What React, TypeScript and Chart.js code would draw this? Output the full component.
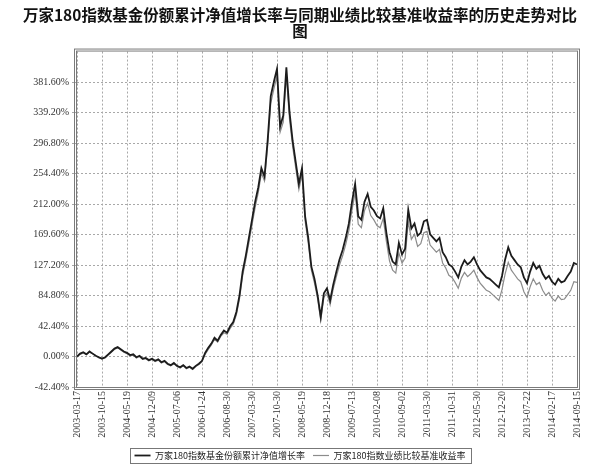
import React, { useEffect, useRef } from "react";
import { Chart, registerables } from "chart.js";

Chart.register(...registerables);

const titleLines = [
  "万家180指数基金份额累计净值增长率与同期业绩比较基准收益率的历史走势对比",
  "图",
];

const seriesNames = ["万家180指数基金份额累计净值增长率", "万家180指数业绩比较基准收益率"];

const tickDates = [
  "2003-03-17", "2003-10-15", "2004-05-19", "2004-12-09", "2005-07-06",
  "2006-01-24", "2006-08-30", "2007-03-30", "2007-10-30", "2008-05-19",
  "2008-12-18", "2009-07-13", "2010-02-08", "2010-09-02", "2011-03-30",
  "2011-10-31", "2012-05-30", "2012-12-20", "2013-07-22", "2014-02-17",
  "2014-09-15",
];

const yTicks = [-42.4, 0, 42.4, 84.8, 127.2, 169.6, 212.0, 254.4, 296.8, 339.2, 381.6];

// 8 samples between consecutive date ticks (161 points)
const fundGrowth = [
  0, 4, 6, 3, 7, 4, 1, -1, -3,
  -1, 3, 7, 11, 13, 10, 7, 5,
  2, 3, -1, 1, -3, -2, -5, -3,
  -6, -4, -8, -6, -10, -12, -9, -13,
  -15, -12, -16, -14, -17, -13, -10, -6,
  5, 12, 18, 26, 22, 30, 36, 33,
  42, 48, 62, 85, 118, 140, 165, 190,
  215, 235, 262, 250, 300, 362, 382, 400,
  320, 335, 402, 340, 300, 270, 240, 262,
  195, 165, 125, 108, 85, 55, 88, 95,
  78, 100, 118, 135, 148, 165, 185, 215,
  240, 195, 190, 215, 226, 208, 203, 195,
  192, 206, 172, 145, 132, 128, 158, 142,
  150, 204, 178, 185, 168, 172, 188, 190,
  170, 165, 160, 165, 145, 138, 128, 125,
  118, 110, 125, 134, 128, 132, 138, 128,
  120, 115, 110, 108, 104, 100, 96, 112,
  135, 152, 140, 134, 128, 124, 110, 102,
  118, 130, 122, 126, 115, 108, 112, 104,
  100, 108, 103, 105, 112, 118, 130, 128,
];

const benchmarkReturn = [
  0, 3, 5, 3, 6, 4, 1, -2, -3,
  -2, 2, 6, 10, 12, 9, 6, 4,
  1, 2, -2, 0, -4, -3, -6, -4,
  -7, -5, -9, -7, -11, -13, -10, -14,
  -16, -13, -17, -15, -18, -14, -11, -7,
  3, 10, 16, 24, 20, 28, 33, 31,
  39, 45, 58, 80, 112, 134, 158, 183,
  207, 228, 255, 244, 292, 352, 372, 390,
  312, 326, 390, 330, 292, 262, 232, 253,
  188, 158, 120, 102, 80, 50, 82, 89,
  72, 94, 111, 127, 140, 156, 175, 204,
  228, 184, 179, 203, 213, 196, 190, 182,
  179, 192, 160, 133, 120, 116, 144, 130,
  137, 188, 163, 170, 153, 157, 172, 174,
  155, 150, 145, 149, 130, 123, 113, 110,
  103, 95, 109, 117, 111, 115, 120, 110,
  102, 97, 92, 90, 86, 82, 78, 93,
  115, 131, 120, 114, 108, 104, 90, 82,
  97, 108, 100, 103, 92, 85, 89, 81,
  77, 84, 79, 80, 86, 92, 104, 103,
];

const PER_TICK = 8;
const SERIF = "'Liberation Serif', 'Noto Sans CJK SC', serif";
const CJK = "'Noto Sans CJK SC', 'Noto Sans CJK TC', sans-serif";

const framePlugin = {
  id: "frame",
  afterDraw(chart: any) {
    const { ctx, chartArea } = chart;
    const { left, top, right, bottom } = chartArea;
    ctx.save();
    ctx.strokeStyle = "#7a7a7a";
    ctx.lineWidth = 1;
    ctx.strokeRect(left - 0.5, top - 0.5, right - left + 1, bottom - top + 1);
    ctx.strokeRect(left - 2.5, top - 2.5, right - left + 5, bottom - top + 5);
    ctx.restore();
  },
};

const legendBoxPlugin = {
  id: "legendBox",
  afterDraw(chart: any) {
    const lg = chart.legend;
    if (!lg || !lg.legendHitBoxes || !lg.legendHitBoxes.length) return;
    let minX = Infinity, maxX = -Infinity, minY = Infinity, maxY = -Infinity;
    lg.legendHitBoxes.forEach((b: any) => {
      minX = Math.min(minX, b.left);
      maxX = Math.max(maxX, b.left + b.width);
      minY = Math.min(minY, b.top);
      maxY = Math.max(maxY, b.top + b.height);
    });
    const { ctx } = chart;
    ctx.save();
    ctx.strokeStyle = "#777";
    ctx.lineWidth = 1;
    ctx.strokeRect(Math.round(minX - 5) + 0.5, Math.round(minY - 3) + 0.5, Math.round(maxX - minX + 10), Math.round(maxY - minY + 6));
    ctx.restore();
  },
};

export default function App() {
  const ref = useRef<HTMLCanvasElement | null>(null);

  useEffect(() => {
    if (!ref.current) return;
    const toPts = (arr: number[]) => arr.map((v, i) => ({ x: i, y: v }));
    const chart = new Chart(ref.current, {
      type: "line",
      data: {
        datasets: [
          {
            label: seriesNames[0],
            data: toPts(fundGrowth),
            borderColor: "#1c1c1c",
            backgroundColor: "#1c1c1c",
            borderWidth: 1.8,
            pointRadius: 0,
            tension: 0,
          },
          {
            label: seriesNames[1],
            data: toPts(benchmarkReturn),
            borderColor: "#8c8c8c",
            backgroundColor: "#8c8c8c",
            borderWidth: 1.2,
            pointRadius: 0,
            tension: 0,
          },
        ],
      },
      options: {
        responsive: false,
        animation: false,
        events: [],
        layout: { padding: { left: 23, right: 23, top: 0, bottom: 0 } },
        plugins: {
          title: {
            display: true,
            text: titleLines,
            color: "#111",
            font: { family: CJK, size: 15.5, weight: "bold", lineHeight: 1.05 },
            padding: { top: 7, bottom: 12 },
          },
          legend: {
            display: true,
            position: "bottom",
            labels: {
              color: "#222",
              font: { family: CJK, size: 9 },
              usePointStyle: true,
              pointStyle: "line",
              pointStyleWidth: 16,
              boxHeight: 9,
              padding: 8,
            },
          },
          tooltip: { enabled: false },
        },
        scales: {
          x: {
            type: "linear",
            min: 0,
            max: (tickDates.length - 1) * PER_TICK,
            afterBuildTicks: (scale: any) => {
              scale.ticks = tickDates.map((_, i) => ({ value: i * PER_TICK }));
            },
            afterFit: (scale: any) => {
              scale.height = 56;
            },
            ticks: {
              autoSkip: false,
              minRotation: 90,
              maxRotation: 90,
              padding: 4,
              color: "#333",
              font: { family: SERIF, size: 10 },
              callback: (v: any) => tickDates[Math.round(Number(v) / PER_TICK)] ?? "",
            },
            grid: { color: "#a8a8a8", drawTicks: false, lineWidth: 1 },
            border: { display: false, dash: [2, 2] },
          },
          y: {
            type: "linear",
            min: -42.4,
            max: 424,
            afterBuildTicks: (scale: any) => {
              scale.ticks = yTicks.map((v) => ({ value: v }));
            },
            afterFit: (scale: any) => {
              scale.width = 54;
            },
            ticks: {
              padding: 3,
              color: "#333",
              font: { family: SERIF, size: 10 },
              callback: (v: any) => Number(v).toFixed(2) + "%",
            },
            grid: { color: "#a8a8a8", drawTicks: true, tickLength: 5, lineWidth: 1 },
            border: { display: false, dash: [2, 2] },
          },
        },
      },
      plugins: [framePlugin, legendBoxPlugin],
    } as any);
    return () => chart.destroy();
  }, []);

  return (
    <div style={{ position: "absolute", left: 0, top: 0, width: 600, height: 470, background: "#fff" }}>
      <canvas ref={ref} width={600} height={470} style={{ display: "block" }} />
    </div>
  );
}
